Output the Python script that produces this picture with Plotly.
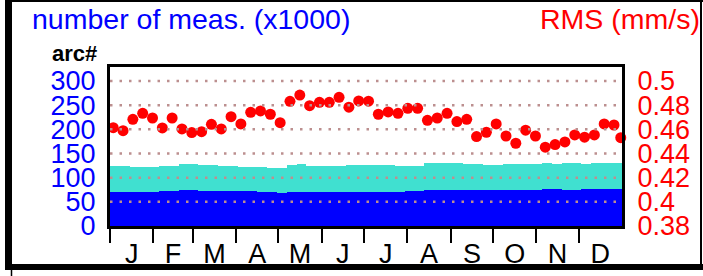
import plotly.graph_objects as go

# ---------------- data ----------------
months = ["J", "F", "M", "A", "M", "J", "J", "A", "S", "O", "N", "D"]
month_start = [0, 31, 59, 90, 120, 151, 181, 212, 243, 273, 304, 334]
month_mid = [15.5, 45, 74.5, 105, 135.5, 166, 196.5, 227.5, 258, 288.5, 319, 349.5]

# weekly samples (day of year)
week_day = [2.3 + 7 * k for k in range(52)] + [364.1]

# number of measurements (x1000): lower (blue) and total (blue + turquoise)
n_blue = [71, 71, 71, 70, 71, 72, 72, 74, 74, 72,
          72, 72, 72, 72, 72, 71, 70, 69, 70, 70,
          70, 70, 70, 71, 71, 71, 71, 71, 71, 71,
          72, 72, 74, 74, 74, 74, 74, 74, 74, 75,
          75, 75, 75, 75, 76, 76, 75, 75, 76, 76,
          76, 76, 76]
n_total = [124, 124, 123, 122, 122, 124, 124, 128, 129, 126,
           126, 125, 125, 123, 123, 123, 121, 120, 127, 128,
           125, 124, 125, 125, 126, 126, 126, 126, 126, 125,
           125, 124, 130, 131, 131, 130, 129, 128, 127, 127,
           128, 128, 129, 129, 130, 129, 130, 130, 129, 130,
           130, 130, 130]

# RMS (mm/s)
rms = [0.4614, 0.4589, 0.4683, 0.4733, 0.4694, 0.4612, 0.4694, 0.4603, 0.4573, 0.4581,
       0.4642, 0.4603, 0.4705, 0.4645, 0.4741, 0.4752, 0.4725, 0.4655, 0.4832, 0.4884,
       0.4796, 0.4824, 0.4824, 0.4865, 0.4783, 0.4835, 0.4833, 0.4725, 0.4744, 0.4733,
       0.4774, 0.4774, 0.4675, 0.4694, 0.4733, 0.4664, 0.4683, 0.4540, 0.4576, 0.4645,
       0.4545, 0.4485, 0.4593, 0.4545, 0.4452, 0.4474, 0.4496, 0.4554, 0.4535, 0.4554,
       0.4645, 0.4636, 0.4531]

left_ticks = [0, 50, 100, 150, 200, 250, 300]
right_ticks = [0.38, 0.40, 0.42, 0.44, 0.46, 0.48, 0.50]
right_text = ["0.38", "0.4", "0.42", "0.44", "0.46", "0.48", "0.5"]

# ---------------- figure ----------------
FONT = "Liberation Sans, Arial, sans-serif"
W, H = 703, 276
L, R, T, B = 110, 81, 67, 50
PW, PH = W - L - R, H - T - B


def px_x(px):
    return (px - L) / PW


def px_y(py):
    return (H - B - py) / PH


bar_x = [7 * k + 3.5 for k in range(len(n_blue))]
n_turq = [t - b for t, b in zip(n_total, n_blue)]

fig = go.Figure()
fig.add_trace(go.Bar(x=bar_x, y=n_blue, width=7, marker=dict(color="#0000ff", line=dict(width=0)),
                     showlegend=False, hoverinfo="skip"))
fig.add_trace(go.Bar(x=bar_x, y=n_turq, width=7, marker=dict(color="#40e0d0", line=dict(width=0)),
                     showlegend=False, hoverinfo="skip"))

for v in left_ticks[1:]:
    fig.add_trace(go.Scatter(x=[0, 365], y=[v, v], mode="lines", xaxis="x2",
                             line=dict(color="#bc8f8f", width=2.5, dash="2.5px,7px"),
                             showlegend=False, hoverinfo="skip"))

fig.add_trace(go.Scatter(x=week_day, y=rms, mode="markers", yaxis="y2",
                         marker=dict(color="#ff0000", size=11, line=dict(width=0)),
                         showlegend=False, cliponaxis=False))

y_max = 329
fig.update_layout(
    template="none",
    width=W, height=H,
    margin=dict(l=L, r=R, t=T, b=B, pad=0),
    paper_bgcolor="white", plot_bgcolor="white",
    barmode="stack", bargap=0,
    font=dict(family=FONT),
    xaxis=dict(range=[0, 365], tickmode="array", tickvals=month_start, showticklabels=False,
               ticks="outside", ticklen=14, tickwidth=2, tickcolor="black",
               showline=True, linecolor="black", linewidth=3, mirror=True,
               showgrid=False, zeroline=False, automargin=False),
    xaxis2=dict(range=[0, 365], overlaying="x", side="bottom", tickmode="array",
                tickvals=month_mid, ticktext=months, ticks="outside", ticklen=4,
                tickcolor="rgba(0,0,0,0)", tickfont=dict(size=27, color="black", family=FONT),
                showline=False, showgrid=False, zeroline=False, automargin=False),
    yaxis=dict(range=[0, y_max], tickmode="array", tickvals=left_ticks,
               ticks="outside", ticklen=6, tickcolor="rgba(0,0,0,0)",
               tickfont=dict(size=27, color="#0000ff", family=FONT),
               showline=True, linecolor="black", linewidth=3, mirror=True,
               showgrid=False, zeroline=False, automargin=False),
    yaxis2=dict(range=[0.38, 0.38 + y_max / 2500], overlaying="y", side="right",
                tickmode="array", tickvals=right_ticks, ticktext=right_text,
                ticks="outside", ticklen=9, tickcolor="rgba(0,0,0,0)",
                tickfont=dict(size=27, color="#ff0000", family=FONT),
                showline=False, showgrid=False, zeroline=False, automargin=False),
)

fig.add_annotation(text="number of meas. (x1000)", x=px_x(30), y=px_y(19), xref="paper", yref="paper",
                   xanchor="left", yanchor="middle", showarrow=False,
                   font=dict(size=28.5, color="#0000ff", family=FONT))
fig.add_annotation(text="RMS (mm/s)", x=px_x(702), y=px_y(19), xref="paper", yref="paper",
                   xanchor="right", yanchor="middle", showarrow=False,
                   font=dict(size=28.5, color="#ff0000", family=FONT))
fig.add_annotation(text="<b>arc#</b>", x=px_x(50), y=px_y(53), xref="paper", yref="paper",
                   xanchor="left", yanchor="middle", showarrow=False,
                   font=dict(size=22, color="black", family=FONT))

# outer frame
frame = [
    (px_x(8.5), px_y(0), px_x(8.5), px_y(268), 7),
    (px_x(5), px_y(1), px_x(703), px_y(1), 2),
    (px_x(701), px_y(0), px_x(701), px_y(268), 2),
    (px_x(5), px_y(267), px_x(703), px_y(267), 6),
    (px_x(11.5), px_y(268), px_x(11.5), px_y(276), 1.5),
]
for x0, y0, x1, y1, w in frame:
    fig.add_shape(type="line", xref="paper", yref="paper", x0=x0, y0=y0, x1=x1, y1=y1,
                  line=dict(color="black", width=w))

fig.write_html(
    "out.html",
    config={"displayModeBar": False},
    post_script="document.body.style.margin='0px';document.body.style.padding='0px';"
                "document.body.style.overflow='hidden';",
)
